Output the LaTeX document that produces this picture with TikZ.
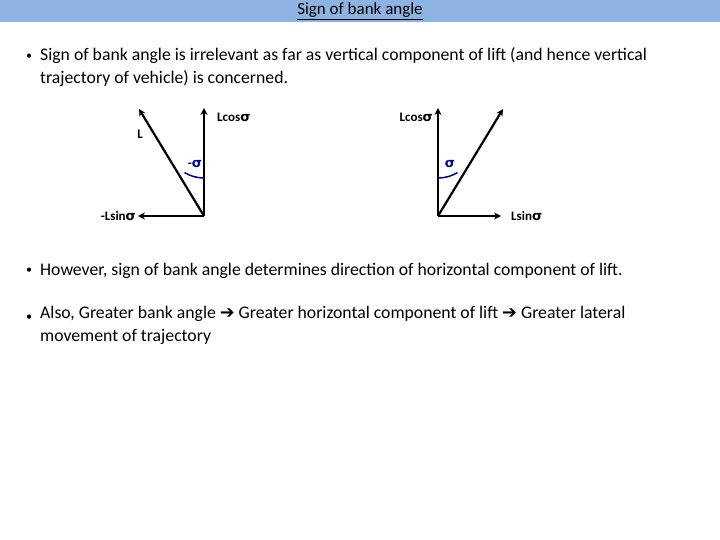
\documentclass[tikz,border=0pt]{standalone}
\usepackage{fontspec}
\setmainfont{Carlito}
\newfontfamily\sym{DejaVu Sans}
\begin{document}
\begin{tikzpicture}[x=1pt,y=-1pt,
  vec/.style={line width=2.2pt,-{Stealth[length=7pt,width=7pt]}},
  lab/.style={font=\fontsize{13}{15}\selectfont\bfseries,inner sep=1pt},
  txt/.style={font=\fontsize{17.7}{23}\selectfont,anchor=west,inner sep=0pt,align=left},
  bul/.style={font=\fontsize{12}{14}\selectfont,inner sep=0pt}]
\usetikzlibrary{arrows.meta}
\useasboundingbox (0,0) rectangle (720,540);
\fill[fill={rgb,255:red,141;green,179;blue,226}] (0,0) rectangle (720,22);
\node[font=\fontsize{17}{20}\selectfont] (title) at (360,11) {\underline{Sign of bank angle}};
\node[bul] (b1) at (29,57) {•};
\node[txt,anchor=north west] (t1) at (40,47) {Sign of bank angle is irrelevant as far as vertical component of lift (and hence vertical\\trajectory of vehicle) is concerned.};
% left diagram
\coordinate (o1) at (204,216);
\coordinate (v1) at (204,108);
\coordinate (l1) at (139,109);
\coordinate (h1) at (138,216);
\draw[vec] (o1) -- (v1);
\draw[vec] (o1) -- (l1);
\draw[vec] (o1) -- (h1);
\draw[line width=1.5pt,blue!60!black] (204,178) arc[start angle=90,end angle=120.9,radius=38];
\node[lab,anchor=west] (lc1) at (216,117) {Lcos{\sym σ}};
\node[lab] (L) at (140,134) {L};
\node[lab,text=blue!60!black] (s1) at (195,164) {-{\sym σ}};
\node[lab,anchor=east] (ls1) at (137,216) {-Lsin{\sym σ}};
% right diagram
\coordinate (o2) at (438,216);
\coordinate (v2) at (438,108);
\coordinate (l2) at (503,109);
\coordinate (h2) at (501,216);
\draw[vec] (o2) -- (v2);
\draw[vec] (o2) -- (l2);
\draw[vec] (o2) -- (h2);
\draw[line width=1.5pt,blue!60!black] (438,178) arc[start angle=90,end angle=59.1,radius=38];
\node[lab,anchor=east] (lc2) at (434,117) {Lcos{\sym σ}};
\node[lab,text=blue!60!black] (s2) at (450,164) {{\sym σ}};
\node[lab,anchor=west] (ls2) at (510,216) {Lsin{\sym σ}};
% bullets
\node[bul] (b2) at (29,271) {•};
\node[txt] (t2) at (40,271) {However, sign of bank angle determines direction of horizontal component of lift.};
\node[bul] (b3) at (29,318) {•};
\node[txt,anchor=north west] (t3) at (40,306) {Also, Greater bank angle {\sym\bfseries ➔} Greater horizontal component of lift {\sym\bfseries ➔} Greater lateral\\movement of trajectory};
\end{tikzpicture}
\end{document}
